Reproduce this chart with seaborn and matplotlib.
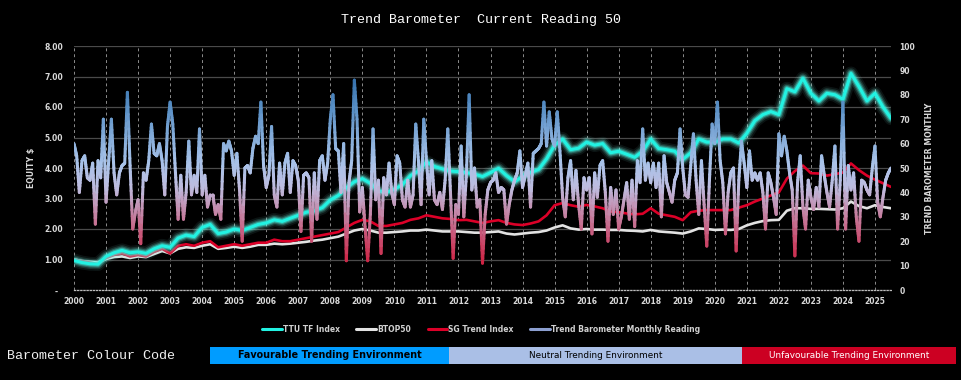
import numpy as np
import matplotlib
matplotlib.use("Agg")
import matplotlib.pyplot as plt
import matplotlib.patheffects as pe
import seaborn as sns
from matplotlib.collections import LineCollection
from matplotlib.colors import LinearSegmentedColormap
from matplotlib.lines import Line2D
from matplotlib.patches import Rectangle

# Equity curves, quarterly from 2000 Q1 to mid 2025 (growth of $1)
ttu_tf_index = [
    0.97, 0.90, 0.86, 0.85, 1.10, 1.22, 1.30, 1.22, 1.25, 1.20, 1.35, 1.45,
    1.40, 1.70, 1.80, 1.75, 2.05, 2.15, 1.85, 1.90, 2.00, 1.95, 2.05, 2.15,
    2.20, 2.30, 2.25, 2.35, 2.45, 2.55, 2.60, 2.70, 2.95, 3.10, 3.35, 3.55,
    3.65, 3.50, 3.25, 3.20, 3.30, 3.45, 3.75, 3.90, 4.20, 4.05, 3.97, 3.90,
    3.88, 3.85, 3.80, 3.72, 3.85, 3.99, 3.75, 3.55, 3.72, 3.85, 3.95, 4.30,
    4.75, 4.95, 4.60, 4.65, 4.85, 4.75, 4.80, 4.50, 4.55, 4.45, 4.35, 4.55,
    4.95, 4.64, 4.60, 4.55, 4.28, 4.50, 4.95, 4.85, 4.85, 4.95, 4.95, 4.82,
    5.14, 5.55, 5.75, 5.85, 5.75, 6.60, 6.50, 6.94, 6.45, 6.20, 6.45, 6.40,
    6.25, 7.10, 6.67, 6.20, 6.45, 6.00, 5.63,
]
btop50 = [
    1.00, 0.95, 0.92, 0.90, 1.02, 1.08, 1.10, 1.05, 1.10, 1.08, 1.18, 1.28,
    1.20, 1.35, 1.40, 1.38, 1.45, 1.50, 1.35, 1.38, 1.42, 1.38, 1.42, 1.48,
    1.48, 1.52, 1.50, 1.52, 1.55, 1.58, 1.62, 1.65, 1.70, 1.75, 1.85, 1.95,
    2.00, 1.95, 1.88, 1.88, 1.90, 1.92, 1.95, 1.95, 1.98, 1.95, 1.92, 1.92,
    1.92, 1.90, 1.88, 1.88, 1.90, 1.92, 1.85, 1.82, 1.85, 1.88, 1.90, 1.95,
    2.05, 2.12, 2.02, 1.98, 2.00, 1.98, 1.98, 1.97, 1.97, 1.95, 1.94, 1.92,
    1.97, 1.92, 1.90, 1.88, 1.85, 1.92, 2.02, 2.00, 1.97, 1.98, 1.97, 2.00,
    2.12, 2.20, 2.26, 2.29, 2.30, 2.60, 2.68, 2.68, 2.66, 2.66, 2.65, 2.64,
    2.68, 2.90, 2.75, 2.68, 2.78, 2.72, 2.68,
]
sg_trend_index = [
    1.00, 0.95, 0.90, 0.85, 1.05, 1.15, 1.20, 1.10, 1.15, 1.10, 1.25, 1.35,
    1.20, 1.45, 1.50, 1.45, 1.55, 1.60, 1.40, 1.45, 1.50, 1.45, 1.50, 1.55,
    1.55, 1.65, 1.60, 1.60, 1.65, 1.70, 1.75, 1.80, 1.85, 1.90, 2.05, 2.20,
    2.30, 2.25, 2.10, 2.10, 2.15, 2.20, 2.30, 2.35, 2.45, 2.40, 2.35, 2.33,
    2.29, 2.30, 2.25, 2.20, 2.25, 2.29, 2.20, 2.15, 2.13, 2.18, 2.25, 2.45,
    2.78, 2.85, 2.78, 2.73, 2.79, 2.74, 2.68, 2.57, 2.55, 2.51, 2.48, 2.50,
    2.68, 2.50, 2.45, 2.40, 2.29, 2.55, 2.60, 2.62, 2.62, 2.62, 2.62, 2.70,
    2.78, 2.90, 3.00, 3.10, 3.20, 3.65, 3.90, 4.08, 3.83, 3.82, 3.75, 3.80,
    3.85, 4.15, 3.93, 3.75, 3.62, 3.50, 3.38,
]

# Trend Barometer monthly reading (0-100), Jan 2000 onwards
barometer = [
    60, 55, 40, 53, 55, 46, 45, 52, 27, 53, 46, 70,
    36, 53, 70, 48, 39, 48, 51, 52, 81, 51, 25, 32,
    37, 19, 48, 45, 53, 68, 56, 55, 60, 53, 39, 67,
    77, 68, 48, 29, 47, 29, 40, 61, 39, 47, 40, 66,
    39, 47, 34, 39, 39, 31, 35, 29, 60, 57, 61, 57,
    47, 56, 41, 20, 50, 51, 48, 58, 63, 60, 77, 51,
    42, 47, 67, 39, 34, 52, 39, 52, 56, 40, 53, 51,
    45, 24, 47, 48, 46, 20, 48, 29, 53, 55, 45, 52,
    70, 80, 58, 57, 40, 60, 12, 44, 53, 86, 70, 32,
    42, 26, 12, 31, 66, 37, 45, 15, 46, 39, 52, 40,
    35, 55, 52, 37, 34, 45, 34, 39, 68, 53, 35, 70,
    53, 39, 53, 37, 35, 40, 33, 45, 66, 40, 13, 35,
    31, 59, 30, 48, 80, 41, 50, 34, 37, 11, 31, 41,
    44, 45, 48, 40, 42, 41, 27, 35, 41, 45, 48, 57,
    42, 47, 52, 34, 56, 57, 58, 60, 77, 59, 73, 62,
    59, 73, 57, 38, 30, 46, 53, 37, 49, 35, 25, 46,
    41, 46, 23, 48, 38, 51, 53, 40, 20, 42, 31, 41,
    25, 30, 37, 44, 29, 45, 26, 53, 44, 66, 45, 52,
    44, 52, 42, 52, 30, 55, 44, 40, 36, 45, 48, 66,
    50, 39, 38, 51, 64, 45, 31, 53, 35, 18, 45, 68,
    60, 77, 53, 44, 23, 40, 48, 50, 16, 45, 61, 52,
    42, 57, 45, 48, 45, 48, 40, 25, 48, 44, 38, 31,
    64, 55, 63, 57, 48, 41, 14, 44, 55, 34, 25, 45,
    38, 33, 42, 34, 55, 47, 40, 34, 45, 59, 25, 45,
    77, 25, 51, 41, 48, 30, 20, 45, 44, 41, 39, 50,
    59, 36, 30, 38, 45, 48, 50,
]

years = list(range(2000, 2026))
equity_ticks = list(range(0, 9))
equity_labels = ["-  "] + [f"{v:.2f}" for v in equity_ticks[1:]]
baro_ticks = list(range(0, 101, 10))

CYAN = "#22F2E2"
WHITE = "#E2E2E2"
RED = "#DC0028"
TICK = "#D8D8D8"

sns.set_theme(style="dark", rc={
    "figure.facecolor": "black",
    "axes.facecolor": "black",
    "savefig.facecolor": "black",
    "axes.edgecolor": "black",
    "text.color": "white",
})
plt.rcParams["font.family"] = ["DejaVu Sans"]

fig = plt.figure(figsize=(9.62, 3.83), dpi=100)
ax = fig.add_axes([74 / 962, 1 - 290 / 383, 817 / 962, 244 / 383])

quarters = 2000 + np.arange(len(ttu_tf_index)) / 4
months = 2000 + np.arange(len(barometer)) / 12

sns.lineplot(x=quarters, y=btop50, ax=ax, color=WHITE, linewidth=1.9)
sns.lineplot(x=quarters, y=sg_trend_index, ax=ax, color=RED, linewidth=1.9)
sns.lineplot(x=quarters, y=ttu_tf_index, ax=ax, color=CYAN, linewidth=2.2)
ttu_line = ax.lines[-1]
ttu_line.set_path_effects([
    pe.Stroke(linewidth=10, foreground="#8FFFF2", alpha=0.08),
    pe.Stroke(linewidth=7.5, foreground="#7FFFF0", alpha=0.14),
    pe.Stroke(linewidth=5.5, foreground="#5FFFEE", alpha=0.25),
    pe.Stroke(linewidth=3.8, foreground="#40FFEA", alpha=0.45),
    pe.Normal(),
])

ax.set_xlim(2000, months[-1])
ax.set_ylim(0, 8)
ax.set_yticks(equity_ticks)
ax.set_yticklabels(equity_labels)
ax.set_xticks(years)
ax.set_xticklabels([str(y) for y in years])
ax.grid(axis="y", color="#4A4A4A", linewidth=0.9, linestyle="-")
ax.grid(axis="x", color="#8C8C8C", linewidth=0.7, linestyle=(0, (3, 3)))
for side in ["top", "left", "right"]:
    ax.spines[side].set_visible(False)
ax.spines["bottom"].set_color("#BBBBBB")
ax.spines["bottom"].set_linestyle((0, (1, 1.5)))
ax.spines["bottom"].set_linewidth(0.9)
ax.tick_params(axis="y", length=0, pad=8, labelsize=5.5, labelcolor=TICK)
ax.tick_params(axis="x", length=0, pad=5, labelsize=5.5, labelcolor=TICK)
for lab in ax.get_xticklabels() + ax.get_yticklabels():
    lab.set_fontweight("bold")
ax.set_ylabel("EQUITY $", fontsize=5.6, fontweight="bold", color=TICK)
ax.yaxis.set_label_coords(-0.0465, 0.5)

# Trend Barometer on the secondary axis with a value-based colour gradient
ax2 = ax.twinx()
ax2.set_ylim(0, 100)
ax2.set_yticks(baro_ticks)
ax2.grid(False)
for side in ["top", "left", "right", "bottom"]:
    ax2.spines[side].set_visible(False)
ax2.tick_params(axis="y", length=0, pad=6, labelsize=5.5, labelcolor=TICK)
for lab in ax2.get_yticklabels():
    lab.set_fontweight("bold")
ax2.set_ylabel("TREND BAROMETER MONTHLY", fontsize=5.6, fontweight="bold", color=TICK)
ax2.yaxis.set_label_coords(1.0416, 0.5)

baro_cmap = LinearSegmentedColormap.from_list("baro", [
    (0.00, "#D0143A"), (0.12, "#CE2444"), (0.22, "#C85274"), (0.32, "#C487A8"),
    (0.42, "#BEBCDF"), (0.52, "#A9C3EA"), (0.62, "#86ADDA"), (0.74, "#5A90C6"),
    (0.86, "#3672AD"), (1.00, "#2A64A0"),
])
# split each monthly step into short pieces so the colour follows the height
fine = np.linspace(0, 1, 10, endpoint=False)
px, py = [], []
for i in range(len(months) - 1):
    px.extend(months[i] + fine * (months[i + 1] - months[i]))
    py.extend(barometer[i] + fine * (barometer[i + 1] - barometer[i]))
px.append(months[-1])
py.append(barometer[-1])
pts = np.column_stack([px, py])
segs = np.stack([pts[:-1], pts[1:]], axis=1)
lc = LineCollection(segs, cmap=baro_cmap, norm=plt.Normalize(0, 100),
                    linewidths=2.2, capstyle="round", joinstyle="round")
lc.set_array((pts[:-1, 1] + pts[1:, 1]) / 2)
ax2.add_collection(lc)

fig.text(0.5, 1 - 20 / 383, "Trend Barometer  Current Reading 50",
         family="Liberation Mono", fontsize=9.6, color="white",
         ha="center", va="center")

handles = [
    Line2D([], [], color=CYAN, linewidth=2.2),
    Line2D([], [], color=WHITE, linewidth=2.2),
    Line2D([], [], color=RED, linewidth=2.2),
    Line2D([], [], color="#8C9FD0", linewidth=2.2),
]
labels = ["TTU TF Index", "BTOP50", "SG Trend Index", "Trend Barometer Monthly Reading"]
fig.legend(handles, labels, loc="center", bbox_to_anchor=(481 / 962, 1 - 329 / 383),
           ncol=4, frameon=False, handlelength=2.6, handletextpad=0.1,
           columnspacing=2.2, prop={"weight": "bold", "size": 5.5}, labelcolor="#D0D0D0")

# Barometer colour code strip
fig.text(7 / 962, 1 - 356 / 383, "Barometer Colour Code", family="Liberation Mono",
         fontsize=9.6, color="#F0F0F0", ha="left", va="center")
bands = [
    (210, 449, "#009CFF", "Favourable Trending Environment", "black", "bold", 6.9),
    (449, 742, "#AABFE6", "Neutral Trending Environment", "black", "normal", 6.4),
    (742, 956, "#CC0022", "Unfavourable Trending Environment", "white", "normal", 6.4),
]
for x0, x1, col, txt, tcol, wt, fs in bands:
    fig.add_artist(Rectangle((x0 / 962, 1 - 364 / 383), (x1 - x0) / 962, 17 / 383,
                             transform=fig.transFigure, facecolor=col, edgecolor="none"))
    fig.text((x0 + x1) / 2 / 962, 1 - 355.5 / 383, txt, fontsize=fs, fontweight=wt,
             color=tcol, ha="center", va="center")
fig.add_artist(Rectangle((0, 0), 1, 3 / 383, transform=fig.transFigure,
                         facecolor="white", edgecolor="none"))

fig.savefig("out.png", dpi=100, facecolor="black")
